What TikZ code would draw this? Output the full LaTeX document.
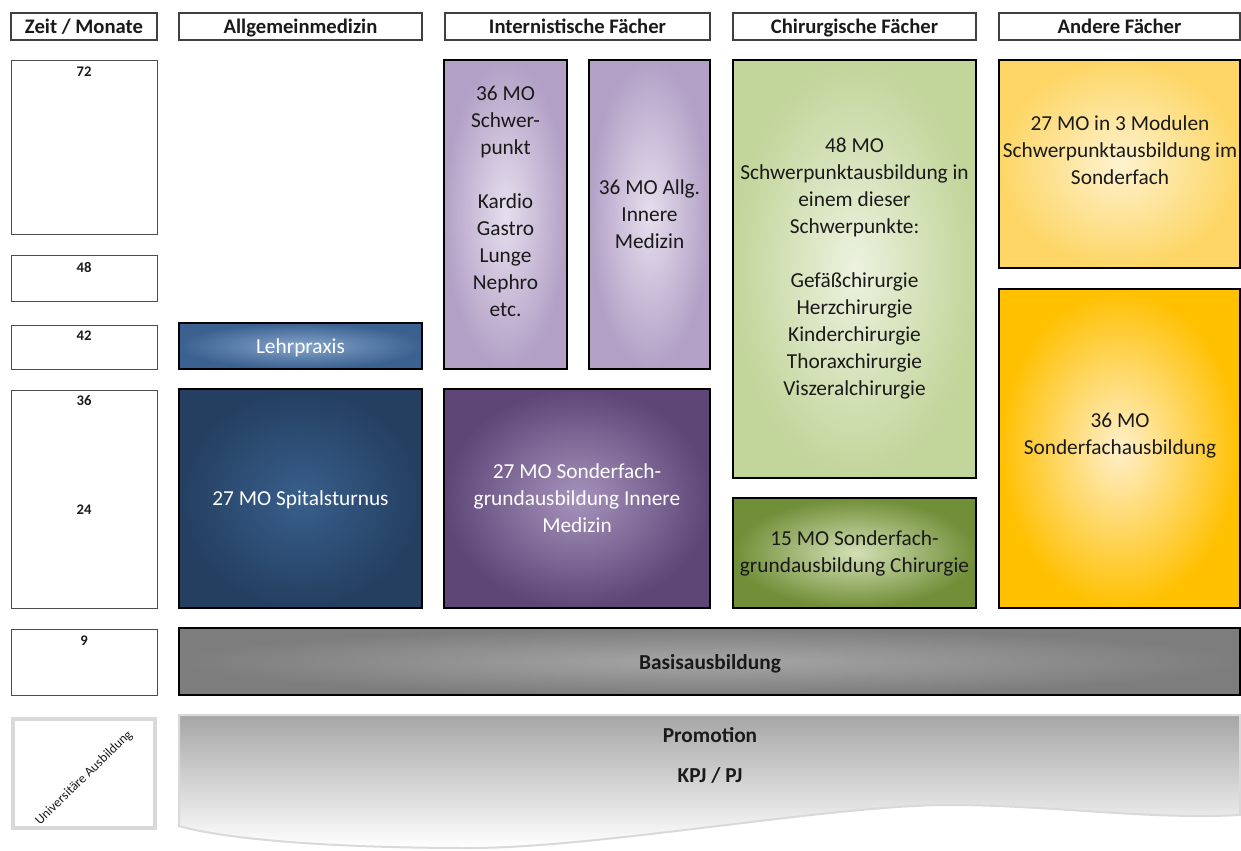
\documentclass[tikz,border=0pt]{standalone}
\usepackage{fontspec}
\setmainfont{Carlito}
\usetikzlibrary{fit}
\definecolor{spitO}{HTML}{243F60}
\definecolor{spitI}{HTML}{385F8C}
\definecolor{lehrO}{HTML}{3A6190}
\definecolor{lehrI}{HTML}{85A4CA}
\definecolor{lavO}{HTML}{B2A0C6}
\definecolor{lavI}{HTML}{E6DFEE}
\definecolor{purO}{HTML}{5E4677}
\definecolor{purI}{HTML}{A693BC}
\definecolor{lgrO}{HTML}{C2D59A}
\definecolor{lgrI}{HTML}{ECF2DF}
\definecolor{dgrO}{HTML}{718E38}
\definecolor{dgrI}{HTML}{D3E0B5}
\definecolor{lyeO}{HTML}{FDD665}
\definecolor{lyeI}{HTML}{FEF2CF}
\definecolor{orgO}{HTML}{FFC000}
\definecolor{orgI}{HTML}{FFEFCB}
\definecolor{basO}{HTML}{7D7D7D}
\definecolor{basI}{HTML}{A6A6A6}
\definecolor{frameGray}{HTML}{D9D9D9}
\definecolor{txtdark}{HTML}{1A1A1A}
\begin{document}
\begin{tikzpicture}[x=0.75pt,y=-0.75pt,
  hdr/.style={draw=black!75, line width=0.9pt, inner sep=0},
  hdrtxt/.style={inner sep=0, text=txtdark, text height=12pt, text depth=0.8pt,
    font=\fontsize{15.5}{18}\selectfont\bfseries},
  numbox/.style={draw=black!70, line width=0.7pt, inner sep=0},
  num/.style={inner sep=0, text=txtdark, font=\fontsize{11}{13}\selectfont\bfseries},
  blk/.style={draw=black, line width=2.2pt, inner sep=0},
  txt/.style={inner sep=0, align=center, text=txtdark, font=\fontsize{16}{20.25}\selectfont},
  one/.style={text height=12pt, text depth=0.8pt},
  wtxt/.style={txt, text=white},
  btxt/.style={txt, one, font=\fontsize{16}{20.25}\selectfont\bfseries}]
\useasboundingbox (0,0) rectangle (1241,850);

% headers
\node[hdr, fit={(11,13) (157,40)}] (hZeit) {};
\node[hdrtxt] (hZeitT) at (84,26.5) {Zeit / Monate};
\node[hdr, fit={(179,13) (422,40)}] (hAllg) {};
\node[hdrtxt] (hAllgT) at (300.5,26.5) {Allgemeinmedizin};
\node[hdr, fit={(445,13) (710,40)}] (hInt) {};
\node[hdrtxt] (hIntT) at (577.5,26.5) {Internistische Fächer};
\node[hdr, fit={(733,13) (976,40)}] (hChir) {};
\node[hdrtxt] (hChirT) at (854.5,26.5) {Chirurgische Fächer};
\node[hdr, fit={(999,13) (1240,40)}] (hAnd) {};
\node[hdrtxt] (hAndT) at (1119.5,26.5) {Andere Fächer};

% month column
\node[numbox, fit={(11,60) (157,234)}] (m72) {};
\node[num] (l72) at (84,72) {72};
\node[numbox, fit={(11,255) (157,301)}] (m48) {};
\node[num] (l48) at (84,267) {48};
\node[numbox, fit={(11,325) (157,369)}] (m42) {};
\node[num] (l42) at (84,336) {42};
\node[numbox, fit={(11,390) (157,608)}] (m36) {};
\node[num] (l36) at (84,401) {36};
\node[num] (l24) at (84,510) {24};
\node[numbox, fit={(11,629) (157,695)}] (m9) {};
\node[num] (l9) at (84,641) {9};
\node[draw=frameGray, line width=3pt, fill=white, inner sep=0, fit={(13,719) (155,828)}] (uniBox) {};
\node[inner sep=0, rotate=44, text=txtdark, font=\fontsize{10}{12}\selectfont] (uni) at (84,778) {Universitäre Ausbildung};

% Allgemeinmedizin
\node[blk, inner color=lehrI, outer color=lehrO, fit={(179,323) (422,369)}] (lehr) {};
\node[wtxt, one] (lehrT) at (300.5,346) {Lehrpraxis};
\node[blk, inner color=spitI, outer color=spitO, fit={(179,389) (422,608)}] (spit) {};
\node[wtxt, one] (spitT) at (300.5,498) {27 MO Spitalsturnus};

% Internistische
\node[blk, inner color=lavI, outer color=lavO, fit={(444,60) (567,369)}] (schwer) {};
\node[txt] (schwerT) at (505.5,201) {36 MO\\Schwer-\\punkt\\[20.25pt]Kardio\\Gastro\\Lunge\\Nephro\\etc.};
\node[blk, inner color=lavI, outer color=lavO, fit={(589,60) (710,369)}] (allgInn) {};
\node[txt] (allgInnT) at (649.5,214) {36 MO Allg.\\Innere\\Medizin};
\node[blk, inner color=purI, outer color=purO, fit={(444,389) (710,608)}] (sfInn) {};
\node[wtxt] (sfInnT) at (577,498) {27 MO Sonderfach-\\grundausbildung Innere\\Medizin};

% Chirurgische
\node[blk, inner color=lgrI, outer color=lgrO, fit={(733,60) (976,478)}] (chir48) {};
\node[txt] (chir48T) at (854.5,269) {48 MO\\Schwerpunktausbildung in\\einem dieser\\Schwerpunkte:\\[20.25pt]Gefäßchirurgie\\Herzchirurgie\\Kinderchirurgie\\Thoraxchirurgie\\Viszeralchirurgie};
\node[blk, inner color=dgrI, outer color=dgrO, fit={(733,498) (976,608)}] (chir15) {};
\node[txt] (chir15T) at (854.5,553) {15 MO Sonderfach-\\grundausbildung Chirurgie};

% Andere
\node[blk, inner color=lyeI, outer color=lyeO, fit={(999,60) (1240,268)}] (and27) {};
\node[txt] (and27T) at (1120,150) {27 MO in 3 Modulen\\Schwerpunktausbildung im\\Sonderfach};
\node[blk, inner color=orgI, outer color=orgO, fit={(999,289) (1240,608)}] (and36) {};
\node[txt] (and36T) at (1120,436) {36 MO\\Sonderfachausbildung};

% Basis
\node[blk, inner color=basI, outer color=basO, fit={(179,628) (1240,695)}] (basis) {};
\node[btxt] (basisT) at (710,662) {Basisausbildung};

% Promotion (wave shape)
\path[top color=black!35, bottom color=white, draw=frameGray, line width=1.5pt]
  (179,715) -- (1240,715) -- (1240,815)
  .. controls (1150,820) and (1050,805) .. (950,805)
  .. controls (830,805) and (600,848) .. (470,848)
  .. controls (320,848) and (220,838) .. (179,826) -- cycle;
\node[btxt] (prom) at (710,735) {Promotion};
\node[btxt] (kpj) at (710,775) {KPJ / PJ};
\end{tikzpicture}
\end{document}
